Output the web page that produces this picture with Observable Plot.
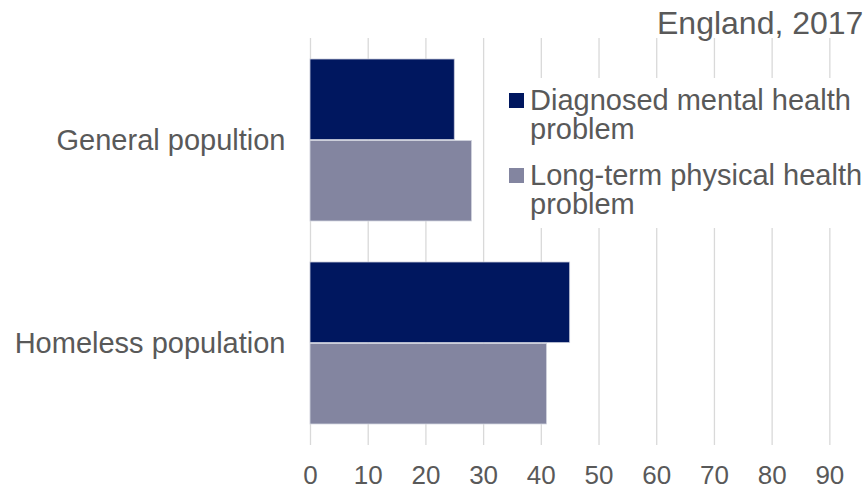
<!DOCTYPE html>
<html>
<head>
<meta charset="utf-8">
<script src="https://cdn.jsdelivr.net/npm/d3@7"></script>
<script src="https://cdn.jsdelivr.net/npm/@observablehq/plot@0.6"></script>
<style>
  html, body { margin: 0; padding: 0; background: #fff; overflow: hidden; }
  body { width: 868px; height: 489px; position: relative; font-family: "Liberation Sans", Arial, sans-serif; }
  #chart { position: absolute; left: 0; top: 0; }
  #subtitle { position: absolute; left: 657px; top: 5px; font-size: 32px; color: #595959; white-space: nowrap; line-height: 36px; }
  #legend { position: absolute; left: 492px; top: 78px; width: 376px; height: 150px; background: #fff; }
  .item { position: absolute; left: 17px; display: flex; align-items: flex-start; }
  .swatch { width: 15px; height: 15px; margin-right: 6px; flex: none; }
  .label { font-size: 29px; line-height: 29px; color: #595959; width: 345px; margin-top: -7px; }
</style>
</head>
<body>
<div id="chart"></div>
<div id="subtitle">England, 2017</div>
<div id="legend"></div>
<script>
const categories = ["General popultion", "Homeless population"];
const seriesNames = ["Diagnosed mental health problem", "Long-term physical health problem"];
const mentalValues = [25, 45];
const physicalValues = [28, 41];
const tickValues = [0, 10, 20, 30, 40, 50, 60, 70, 80, 90];
const colors = ["#00175F", "#8385A0"];

const mentalData = categories.map((c, i) => ({category: c, value: mentalValues[i]}));
const physicalData = categories.map((c, i) => ({category: c, value: physicalValues[i]}));

const W = 868, H = 489, mTop = 38, mBottom = 44;
const plotH = H - mTop - mBottom;
const step = plotH / (2 - 0.2 + 2 * 0.1);
const half = step * 0.8 / 2;

const chart = Plot.plot({
  width: W,
  height: H,
  marginLeft: 310,
  marginRight: 0,
  marginTop: mTop,
  marginBottom: mBottom,
  style: {fontFamily: "'Liberation Sans', Arial, sans-serif", fontSize: "29px", color: "#595959", background: "#fff"},
  x: {domain: [0, 96.7], ticks: tickValues, label: null},
  y: {domain: categories, paddingInner: 0.2, paddingOuter: 0.1, label: null},
  marks: [
    Plot.gridX(tickValues, {stroke: "#d9d9d9", strokeOpacity: 1, strokeWidth: 1.3}),
    Plot.axisX(tickValues, {tickSize: 0, tickPadding: 20, fontSize: 26, tickFormat: d => String(d), label: null}),
    Plot.axisY(categories, {tickSize: 0, tickPadding: 25, fontSize: 29, label: null}),
    Plot.barX(mentalData, {x: "value", y: "category", fill: colors[0], stroke: "#c9ccdb", strokeWidth: 0.8, insetBottom: half}),
    Plot.barX(physicalData, {x: "value", y: "category", fill: colors[1], stroke: "#d4d6e0", strokeWidth: 0.8, insetTop: half})
  ]
});
document.getElementById("chart").appendChild(chart);

const legend = document.getElementById("legend");
const tops = [15, 90];
seriesNames.forEach((name, i) => {
  const item = document.createElement("div");
  item.className = "item";
  item.style.top = tops[i] + "px";
  const sw = document.createElement("div");
  sw.className = "swatch";
  sw.style.background = colors[i];
  const lb = document.createElement("div");
  lb.className = "label";
  lb.textContent = name;
  item.appendChild(sw);
  item.appendChild(lb);
  legend.appendChild(item);
});
</script>
</body>
</html>
